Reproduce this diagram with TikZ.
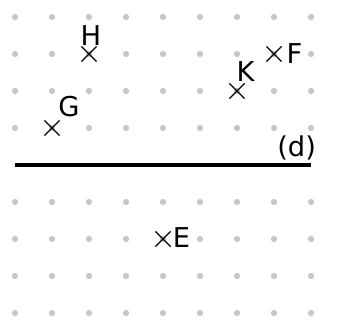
\documentclass[tikz,border=0pt]{standalone}
\usepackage{fontspec}
\setmainfont{DejaVu Sans}
\usetikzlibrary{shapes.misc,positioning}

\begin{document}
\begin{tikzpicture}[
  point/.style={cross out, draw, line width=0.9pt, minimum size=0.38cm, inner sep=0pt},
  lbl/.style={inner sep=0pt, anchor=base, font=\fontsize{21}{25}\selectfont},
  griddot/.style={fill=black!22}
]
\useasboundingbox (-0.405,-0.189) rectangle (8.81,8.459);
\foreach \y in {0,1,2,3,5,6,7,8}
  \foreach \x in {0,...,8}
    \fill[griddot] (\x,\y) circle (0.085);
\draw[line width=3pt] (0,4) coordinate (dl) -- (8,4) coordinate (dr);
\node[lbl] (dname) at (7.61,4.24) {(d)};
\node[point] (H) at (2,7) {};
\node[point] (G) at (1,5) {};
\node[point] (K) at (6,6) {};
\node[point] (F) at (7,7) {};
\node[point] (E) at (4,2) {};
\node[lbl] (Hl) at (2.05,7.22) {H};
\node[lbl] (Gl) at (1.46,5.32) {G};
\node[lbl] (Kl) at (6.23,6.26) {K};
\node[lbl] (Fl) at (7.55,6.75) {F};
\node[lbl] (El) at (4.5,1.78) {E};
\end{tikzpicture}
\end{document}
